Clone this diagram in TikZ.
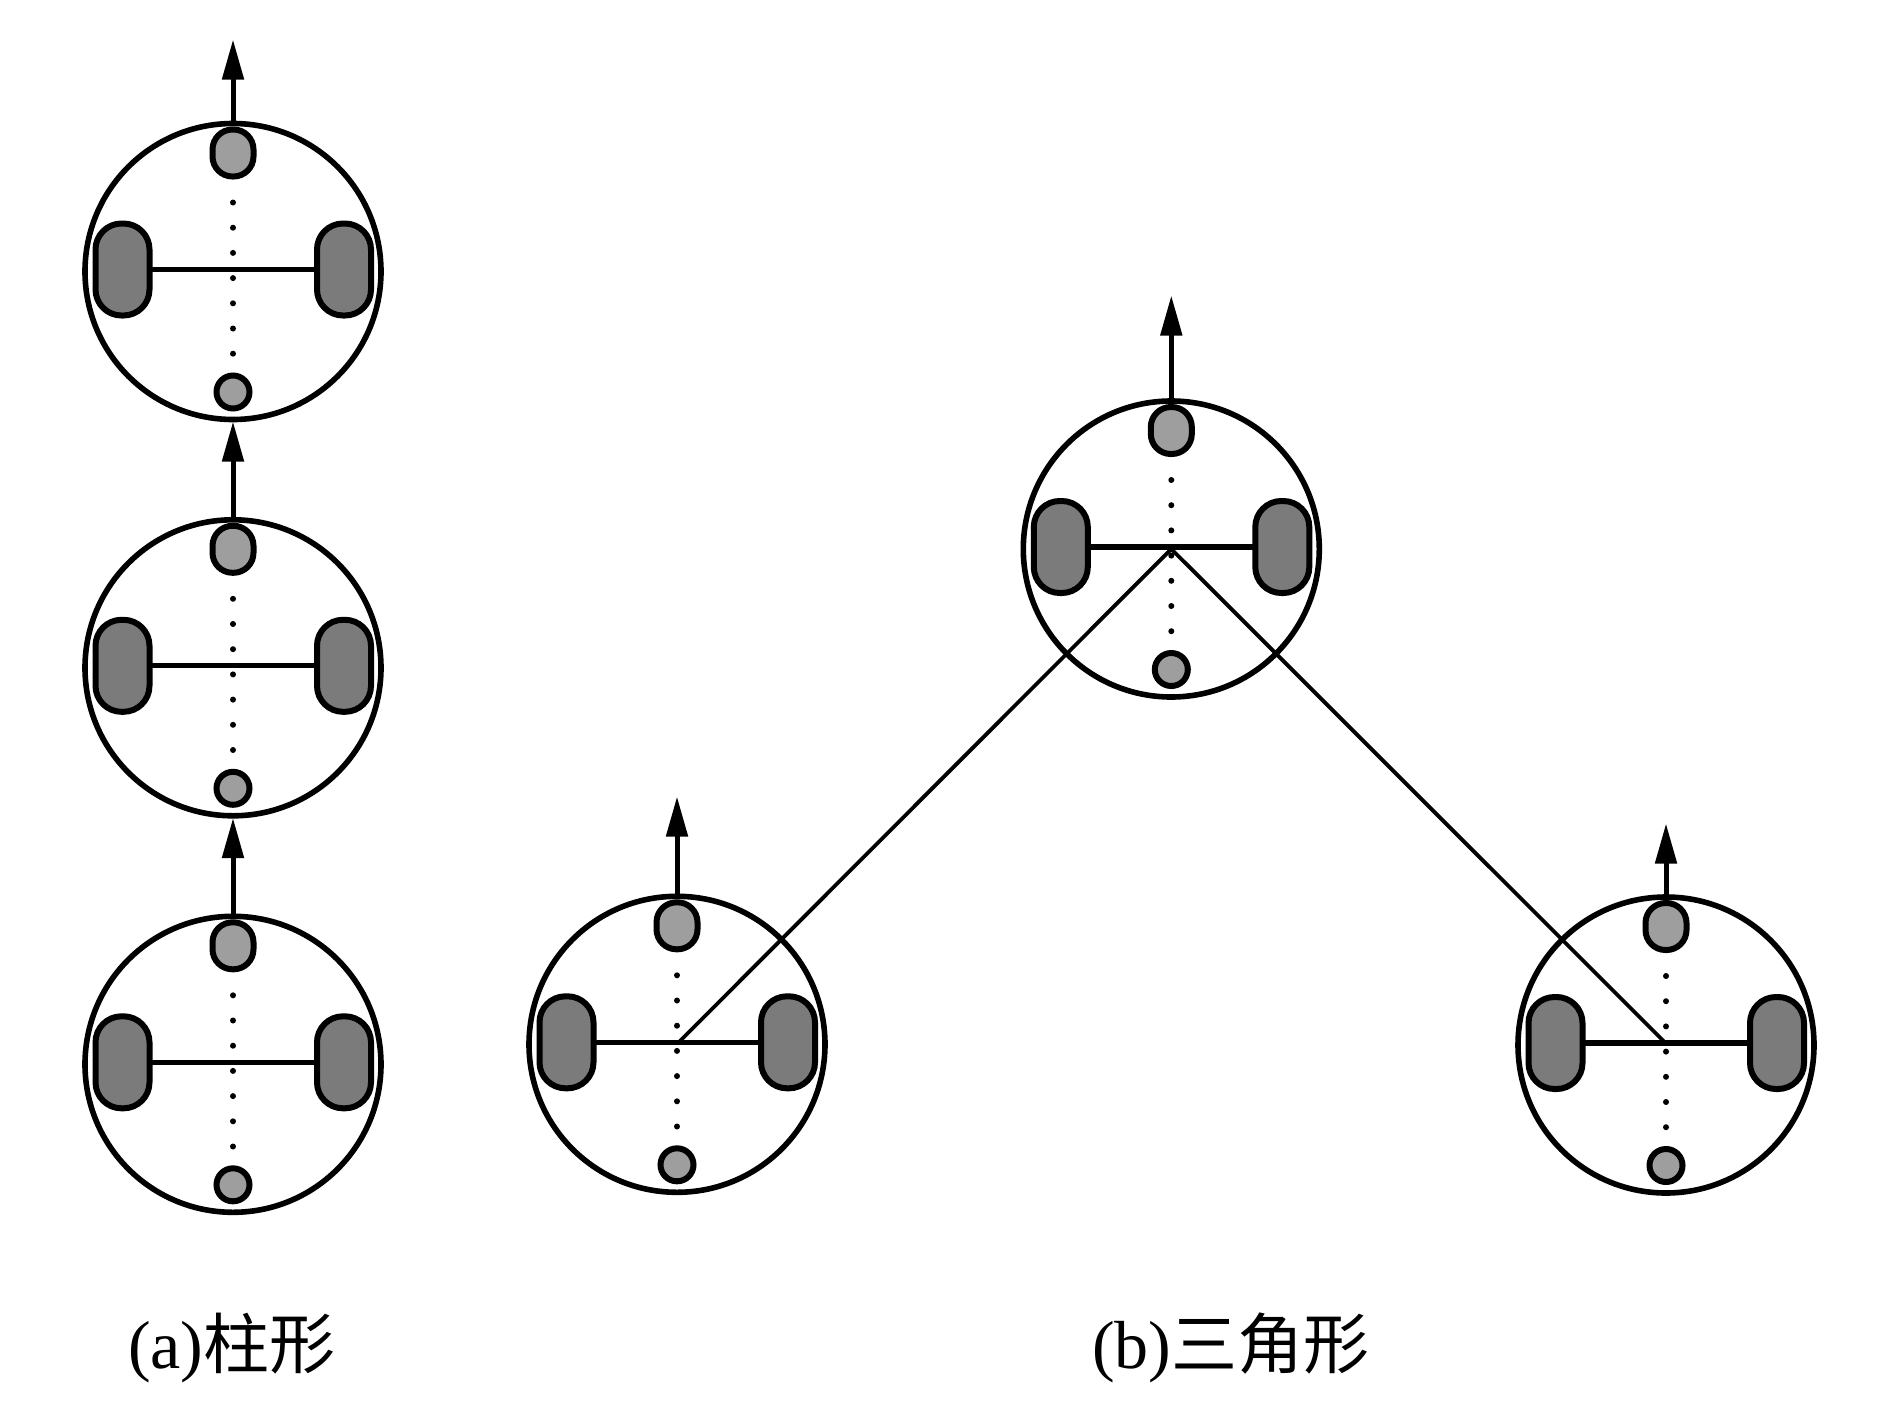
\documentclass[tikz,border=0pt]{standalone}
\usepackage{fontspec}
\setmainfont{Liberation Serif}
\newfontfamily\cjk{Noto Sans CJK SC}
\usetikzlibrary{arrows.meta}
\definecolor{wheelgray}{HTML}{7B7B7B}
\definecolor{castorgray}{HTML}{9E9E9E}
\tikzset{
  body/.style={circle,draw=black,line width=5.6pt,minimum size=296pt,inner sep=0pt,outer sep=0pt},
  wheelbox/.style={rectangle,rounded corners=26pt,draw=black,line width=6pt,fill=wheelgray,minimum width=54pt,minimum height=92pt,inner sep=0pt,outer sep=0pt},
  frontcastor/.style={rectangle,rounded corners=20pt,draw=black,line width=6pt,fill=castorgray,minimum width=41pt,minimum height=47pt,inner sep=0pt,outer sep=0pt},
  rearcastor/.style={circle,draw=black,line width=6pt,fill=castorgray,minimum size=33pt,inner sep=0pt,outer sep=0pt},
  axle/.style={draw=black,line width=5.2pt},
  heading/.style={draw=black,line width=5pt,-{Triangle[length=40pt,width=21pt]}},
  link/.style={draw=black,line width=3.8pt},
  caption/.style={anchor=base west,inner sep=0pt,outer sep=0pt,font=\fontsize{68}{72}\selectfont}
}
% name, centre x, centre y, arrow tip y
\newcommand{\robotunit}[4]{
  \node[body] (#1-body) at (#2,#3) {};
  \coordinate (#1-tip) at (#2,#4);
  \draw[heading] (#1-body.north) -- (#1-tip);
  \foreach \k in {0,...,6} {
    \fill[black] ({#2},{#3-69+25.2*\k}) circle[radius=3pt];
  }
  \node[wheelbox] (#1-lw) at ({#2-110.5},{#3-2}) {};
  \node[wheelbox] (#1-rw) at ({#2+111},{#3-2}) {};
  \draw[axle] (#1-lw.east) -- (#1-rw.west);
  \node[frontcastor] (#1-fc) at ({#2},{#3-118.5}) {};
  \node[rearcastor] (#1-rc) at ({#2},{#3+120.5}) {};
}
\begin{document}
\begin{tikzpicture}[x=1pt,y=-1pt]
  \useasboundingbox (0,0) rectangle (1890,1424);
  \robotunit{aone}{233}{271.5}{39.5}
  \robotunit{atwo}{233}{667.8}{421.5}
  \robotunit{athree}{233}{1064.3}{818}
  \robotunit{btop}{1171.3}{549}{295.5}
  \robotunit{bleft}{677}{1044.3}{796.5}
  \robotunit{bright}{1666}{1045}{823.5}
  \coordinate (apex) at (1171.3,549);
  \coordinate (leftend) at (680,1041);
  \coordinate (rightend) at (1663.5,1041);
  \draw[link] (leftend) -- (apex) -- (rightend);
  \node[caption] (capa) at (128,1368) {(a){\cjk\fontsize{66}{72}\selectfont 柱形}};
  \node[caption] (capb) at (1092,1368) {(b){\cjk\fontsize{66}{72}\selectfont 三角形}};
\end{tikzpicture}
\end{document}
